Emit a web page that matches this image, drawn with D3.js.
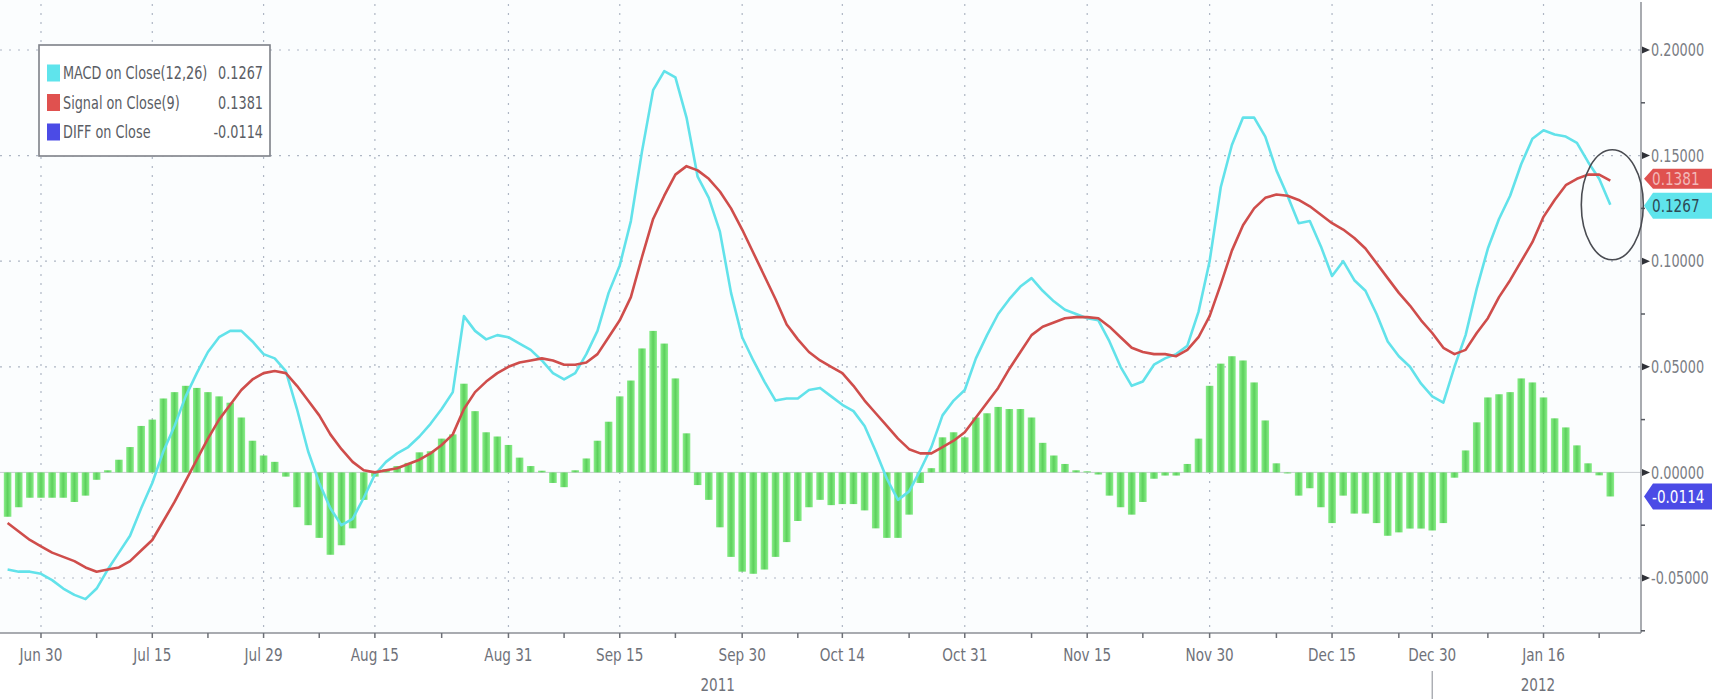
<!DOCTYPE html>
<html>
<head>
<meta charset="utf-8">
<script src="https://cdn.jsdelivr.net/npm/d3@7"></script>
<style>
  body { margin: 0; background: #ffffff; }
  text { font-family: 'DejaVu Sans Condensed', 'DejaVu Sans', sans-serif; }
</style>
</head>
<body>
<div id="chart"></div>
<script>
const svgWidth = 1712;
const svgHeight = 699;

// MACD(12,26) on close, one value per trading day (Jun 27 2011 .. Jan 24 2012)
var macd = [
  -0.046, -0.047, -0.047, -0.048, -0.051, -0.055, -0.058, -0.060, -0.055, -0.046,
  -0.038, -0.030, -0.017, -0.005, 0.010, 0.022, 0.036, 0.047, 0.057, 0.064,
  0.067, 0.067, 0.062, 0.056, 0.054, 0.048, 0.030, 0.010, -0.005, -0.017,
  -0.025, -0.022, -0.012, -0.001, 0.005, 0.009, 0.012, 0.017, 0.023, 0.030,
  0.038, 0.074, 0.067, 0.063, 0.065, 0.064, 0.061, 0.058, 0.053, 0.047,
  0.044, 0.047, 0.056, 0.067, 0.085, 0.098, 0.119, 0.152, 0.181, 0.190,
  0.187, 0.168, 0.140, 0.130, 0.114, 0.085, 0.064, 0.053, 0.043, 0.034,
  0.035, 0.035, 0.039, 0.040, 0.036, 0.032, 0.029, 0.022, 0.010, -0.003,
  -0.013, -0.009, 0.001, 0.012, 0.027, 0.034, 0.039, 0.054, 0.065, 0.075,
  0.082, 0.088, 0.092, 0.086, 0.081, 0.077, 0.075, 0.073, 0.072, 0.062,
  0.050, 0.041, 0.043, 0.051, 0.054, 0.056, 0.060, 0.076, 0.100, 0.135,
  0.155, 0.168, 0.168, 0.159, 0.143, 0.131, 0.118, 0.119, 0.107, 0.093,
  0.100, 0.091, 0.086, 0.075, 0.062, 0.055, 0.050, 0.042, 0.036, 0.033,
  0.050, 0.065, 0.087, 0.106, 0.120, 0.131, 0.146, 0.158, 0.162, 0.160,
  0.159, 0.156, 0.147, 0.139, 0.1267
];

// Signal(9) on close
var signal = [
  -0.024, -0.028, -0.032, -0.035, -0.038, -0.040, -0.042, -0.045, -0.047, -0.046,
  -0.045, -0.042, -0.037, -0.032, -0.023, -0.014, -0.004, 0.006, 0.016, 0.025,
  0.032, 0.039, 0.044, 0.047, 0.048, 0.047, 0.041, 0.034, 0.027, 0.018,
  0.011, 0.005, 0.001, 0.000, 0.001, 0.002, 0.004, 0.006, 0.009, 0.013,
  0.018, 0.030, 0.038, 0.043, 0.047, 0.050, 0.052, 0.053, 0.054, 0.053,
  0.051, 0.051, 0.052, 0.056, 0.064, 0.072, 0.083, 0.102, 0.120, 0.131,
  0.141, 0.145, 0.143, 0.139, 0.133, 0.125, 0.115, 0.104, 0.093, 0.082,
  0.070, 0.063, 0.057, 0.053, 0.050, 0.047, 0.041, 0.034, 0.028, 0.022,
  0.016, 0.011, 0.009, 0.009, 0.012, 0.015, 0.019, 0.026, 0.033, 0.040,
  0.049, 0.057, 0.065, 0.069, 0.071, 0.073, 0.0735, 0.0735, 0.073, 0.069,
  0.064, 0.059, 0.057, 0.056, 0.056, 0.055, 0.058, 0.064, 0.074, 0.089,
  0.105, 0.117, 0.125, 0.130, 0.1316, 0.131, 0.129, 0.126, 0.122, 0.118,
  0.115, 0.111, 0.106, 0.099, 0.092, 0.085, 0.079, 0.072, 0.066, 0.059,
  0.056, 0.058, 0.066, 0.073, 0.083, 0.091, 0.100, 0.109, 0.121, 0.129,
  0.136, 0.139, 0.141, 0.141, 0.1381
];

// DIFF histogram
var diff = [
  -0.021, -0.0165, -0.012, -0.012, -0.012, -0.012, -0.014, -0.011, -0.0035, 0.001,
  0.006, 0.012, 0.022, 0.025, 0.035, 0.038, 0.041, 0.040, 0.038, 0.036,
  0.033, 0.026, 0.015, 0.008, 0.005, -0.002, -0.0165, -0.025, -0.031, -0.039,
  -0.0345, -0.0265, -0.013, -0.002, 0.0015, 0.003, 0.0045, 0.0095, 0.010, 0.016,
  0.018, 0.042, 0.029, 0.019, 0.017, 0.013, 0.007, 0.003, 0.0008, -0.005,
  -0.007, 0.001, 0.0066, 0.015, 0.024, 0.036, 0.0435, 0.0587, 0.067, 0.061,
  0.0445, 0.0185, -0.006, -0.013, -0.026, -0.040, -0.047, -0.048, -0.046, -0.040,
  -0.033, -0.023, -0.0165, -0.013, -0.0155, -0.015, -0.015, -0.018, -0.0265, -0.031,
  -0.031, -0.020, -0.005, 0.002, 0.0166, 0.019, 0.0166, 0.026, 0.028, 0.031,
  0.030, 0.030, 0.026, 0.014, 0.008, 0.004, 0.001, 0.0005, -0.001, -0.011,
  -0.0165, -0.020, -0.014, -0.003, -0.0015, -0.0015, 0.004, 0.016, 0.041, 0.0515,
  0.055, 0.053, 0.0426, 0.0246, 0.0043, -0.0005, -0.011, -0.0075, -0.0165, -0.024,
  -0.011, -0.0195, -0.0195, -0.024, -0.030, -0.0284, -0.0266, -0.0266, -0.0275, -0.024,
  -0.0025, 0.0104, 0.0237, 0.0355, 0.037, 0.038, 0.0445, 0.0426, 0.0355, 0.0256,
  0.0213, 0.0128, 0.0043, -0.0014, -0.0114
];

// x axis labels sit on trading-day indexes
var tickIndex = [3, 13, 23, 33, 45, 55, 66, 75, 86, 97, 108, 119, 128, 138];
var tickLabels = ["Jun 30", "Jul 15", "Jul 29", "Aug 15", "Aug 31", "Sep 15", "Sep 30",
  "Oct 14", "Oct 31", "Nov 15", "Nov 30", "Dec 15", "Dec 30", "Jan 16"];
var minorIndex = [8, 18, 28, 39, 50, 60, 71, 81, 92, 102, 114, 125, 133, 143];
var yearLabels = ["2011", "2012"];
var yearIndex = [63.8, 137.5];
var yearBreak = [128];

var yTicks = [-0.05, 0.00, 0.05, 0.10, 0.15, 0.20];
var yMinor = [-0.075, -0.025, 0.025, 0.075, 0.125, 0.175];

var legendNames = ["MACD on Close(12,26)", "Signal on Close(9)", "DIFF on Close"];
var legendValues = ["0.1267", "0.1381", "-0.0114"];
var lastValues = [0.1267, 0.1381, -0.0114];

// layout
var axisX = 1641;
var axisY = 633;
var narrow = 0.84;   // squeeze the font to look like the terminal's narrow face

var svg = d3.select("#chart")
    .append("svg")
    .attr("width", svgWidth)
    .attr("height", svgHeight);

// text helper: narrow text placed with a transform
function addText(parent, x, y, str, size, color, anchor) {
    return parent.append("text")
        .attr("transform", `translate(${x},${y}) scale(${narrow},1)`)
        .attr("dy", "0.36em")
        .attr("font-size", size)
        .attr("fill", color)
        .attr("text-anchor", anchor || "start")
        .text(str);
}

var defs = svg.append("defs");
var grad = defs.append("linearGradient")
    .attr("id", "barGrad")
    .attr("x1", "0").attr("x2", "1").attr("y1", "0").attr("y2", "0");
grad.append("stop").attr("offset", "0%").attr("stop-color", "#8aee8a");
grad.append("stop").attr("offset", "50%").attr("stop-color", "#5cd05c");
grad.append("stop").attr("offset", "100%").attr("stop-color", "#8aee8a");

// plot background
svg.append("rect")
    .attr("x", 0).attr("y", 0)
    .attr("width", axisX).attr("height", axisY)
    .attr("fill", "#fbfdfe");

// scales
var xScale = d3.scaleLinear()
    .domain([0, macd.length - 1])
    .range([7.6, 1610.3]);

var yScale = d3.scaleLinear()
    .domain([-0.05, 0.20])
    .range([578, 50]);

// grid
var grid = svg.append("g");
grid.selectAll(".hgrid")
    .data(yTicks.filter(d => d !== 0))
    .enter()
    .append("line")
    .attr("x1", 0).attr("x2", axisX)
    .attr("y1", d => yScale(d)).attr("y2", d => yScale(d))
    .attr("stroke", "#aeb6c4")
    .attr("stroke-width", 1.2)
    .attr("stroke-dasharray", "2,7");

grid.selectAll(".vgrid")
    .data(tickIndex)
    .enter()
    .append("line")
    .attr("x1", d => xScale(d)).attr("x2", d => xScale(d))
    .attr("y1", 4).attr("y2", axisY)
    .attr("stroke", "#aeb6c4")
    .attr("stroke-width", 1.2)
    .attr("stroke-dasharray", "2,7");

grid.append("line")
    .attr("x1", 0).attr("x2", axisX)
    .attr("y1", yScale(0)).attr("y2", yScale(0))
    .attr("stroke", "#c9ccd2")
    .attr("stroke-width", 1);

// histogram
svg.append("g")
    .selectAll("rect")
    .data(diff)
    .enter()
    .append("rect")
    .attr("x", (d, i) => xScale(i) - 3.8)
    .attr("width", 7.6)
    .attr("y", d => yScale(Math.max(0, d)))
    .attr("height", d => Math.max(1, Math.abs(yScale(d) - yScale(0))))
    .attr("fill", "url(#barGrad)");

// lines
var line = d3.line()
    .x((d, i) => xScale(i))
    .y(d => yScale(d));

svg.append("path")
    .datum(macd)
    .attr("d", line)
    .attr("fill", "none")
    .attr("stroke", "#62e2ea")
    .attr("stroke-width", 2.6)
    .attr("stroke-linejoin", "round");

svg.append("path")
    .datum(signal)
    .attr("d", line)
    .attr("fill", "none")
    .attr("stroke", "#cf4d4b")
    .attr("stroke-width", 2.6)
    .attr("stroke-linejoin", "round");

// axes lines
svg.append("line")
    .attr("x1", axisX).attr("x2", axisX)
    .attr("y1", 2).attr("y2", axisY)
    .attr("stroke", "#8c8f96").attr("stroke-width", 1.5);
svg.append("line")
    .attr("x1", 0).attr("x2", axisX)
    .attr("y1", axisY).attr("y2", axisY)
    .attr("stroke", "#8c8f96").attr("stroke-width", 1.5);

// right axis: arrows + labels
var yAxisG = svg.append("g");
yAxisG.selectAll("path")
    .data(yTicks)
    .enter()
    .append("path")
    .attr("d", d => `M${axisX + 1},${yScale(d) - 3.5} L${axisX + 9},${yScale(d)} L${axisX + 1},${yScale(d) + 3.5} Z`)
    .attr("fill", "#2f3138");
yAxisG.selectAll(".minor")
    .data(yMinor)
    .enter()
    .append("line")
    .attr("x1", axisX).attr("x2", axisX + 4)
    .attr("y1", d => yScale(d)).attr("y2", d => yScale(d))
    .attr("stroke", "#55585f").attr("stroke-width", 1.5);
yTicks.forEach(function(d) {
    addText(yAxisG, axisX + 10, yScale(d), d3.format(".5f")(d).replace("−", "-"), 17, "#7a7d84");
});

// bottom axis ticks + labels
var xAxisG = svg.append("g");
xAxisG.selectAll(".major")
    .data(tickIndex.concat(minorIndex))
    .enter()
    .append("line")
    .attr("x1", d => xScale(d)).attr("x2", d => xScale(d))
    .attr("y1", axisY).attr("y2", axisY + 5)
    .attr("stroke", "#6d7077").attr("stroke-width", 1.5);
tickLabels.forEach(function(d, i) {
    addText(xAxisG, xScale(tickIndex[i]), 655, d, 18, "#6f727a", "middle");
});
yearLabels.forEach(function(d, i) {
    addText(xAxisG, xScale(yearIndex[i]), 685, d, 18, "#6f727a", "middle");
});
xAxisG.selectAll(".break")
    .data(yearBreak)
    .enter()
    .append("line")
    .attr("x1", d => xScale(d)).attr("x2", d => xScale(d))
    .attr("y1", 671).attr("y2", 699)
    .attr("stroke", "#9a9da4").attr("stroke-width", 1.2);

// last-value tags on the right
var tagColors = ["#5fe4ec", "#e0514f", "#4b4be6"];
var tagText = ["#2d4a55", "#f2b8b8", "#ffffff"];
var tagY = [yScale(lastValues[0]) + 1, yScale(lastValues[1]) - 2, yScale(lastValues[2])];
var tags = svg.append("g");
lastValues.forEach(function(v, k) {
    var cy = tagY[k];
    var h = k === 1 ? 20 : 26;
    tags.append("path")
        .attr("d", `M${axisX + 3},${cy} L${axisX + 12},${cy - h / 2} L${svgWidth},${cy - h / 2} L${svgWidth},${cy + h / 2} L${axisX + 12},${cy + h / 2} Z`)
        .attr("fill", tagColors[k]);
    addText(tags, axisX + 11, cy, legendValues[k], 18, tagText[k]);
});

// annotation circle around the last crossing
svg.append("ellipse")
    .attr("cx", xScale(macd.length - 1) + 2)
    .attr("cy", yScale(lastValues[0]))
    .attr("rx", 31)
    .attr("ry", 55)
    .attr("fill", "none")
    .attr("stroke", "#4a4c52")
    .attr("stroke-width", 1.6);

// legend
var legend = svg.append("g");
legend.append("rect")
    .attr("x", 39).attr("y", 45)
    .attr("width", 231).attr("height", 111)
    .attr("fill", "#ffffff")
    .attr("stroke", "#7d8088")
    .attr("stroke-width", 1.6);
legendNames.forEach(function(name, k) {
    var ry = 73 + k * 29.5;
    legend.append("rect")
        .attr("x", 47).attr("y", ry - 8.5)
        .attr("width", 13).attr("height", 17)
        .attr("fill", tagColors[k]);
    addText(legend, 63, ry, name, 17, "#5a5d64");
    addText(legend, 263, ry, legendValues[k], 17, "#5a5d64", "end");
});
</script>
</body>
</html>
